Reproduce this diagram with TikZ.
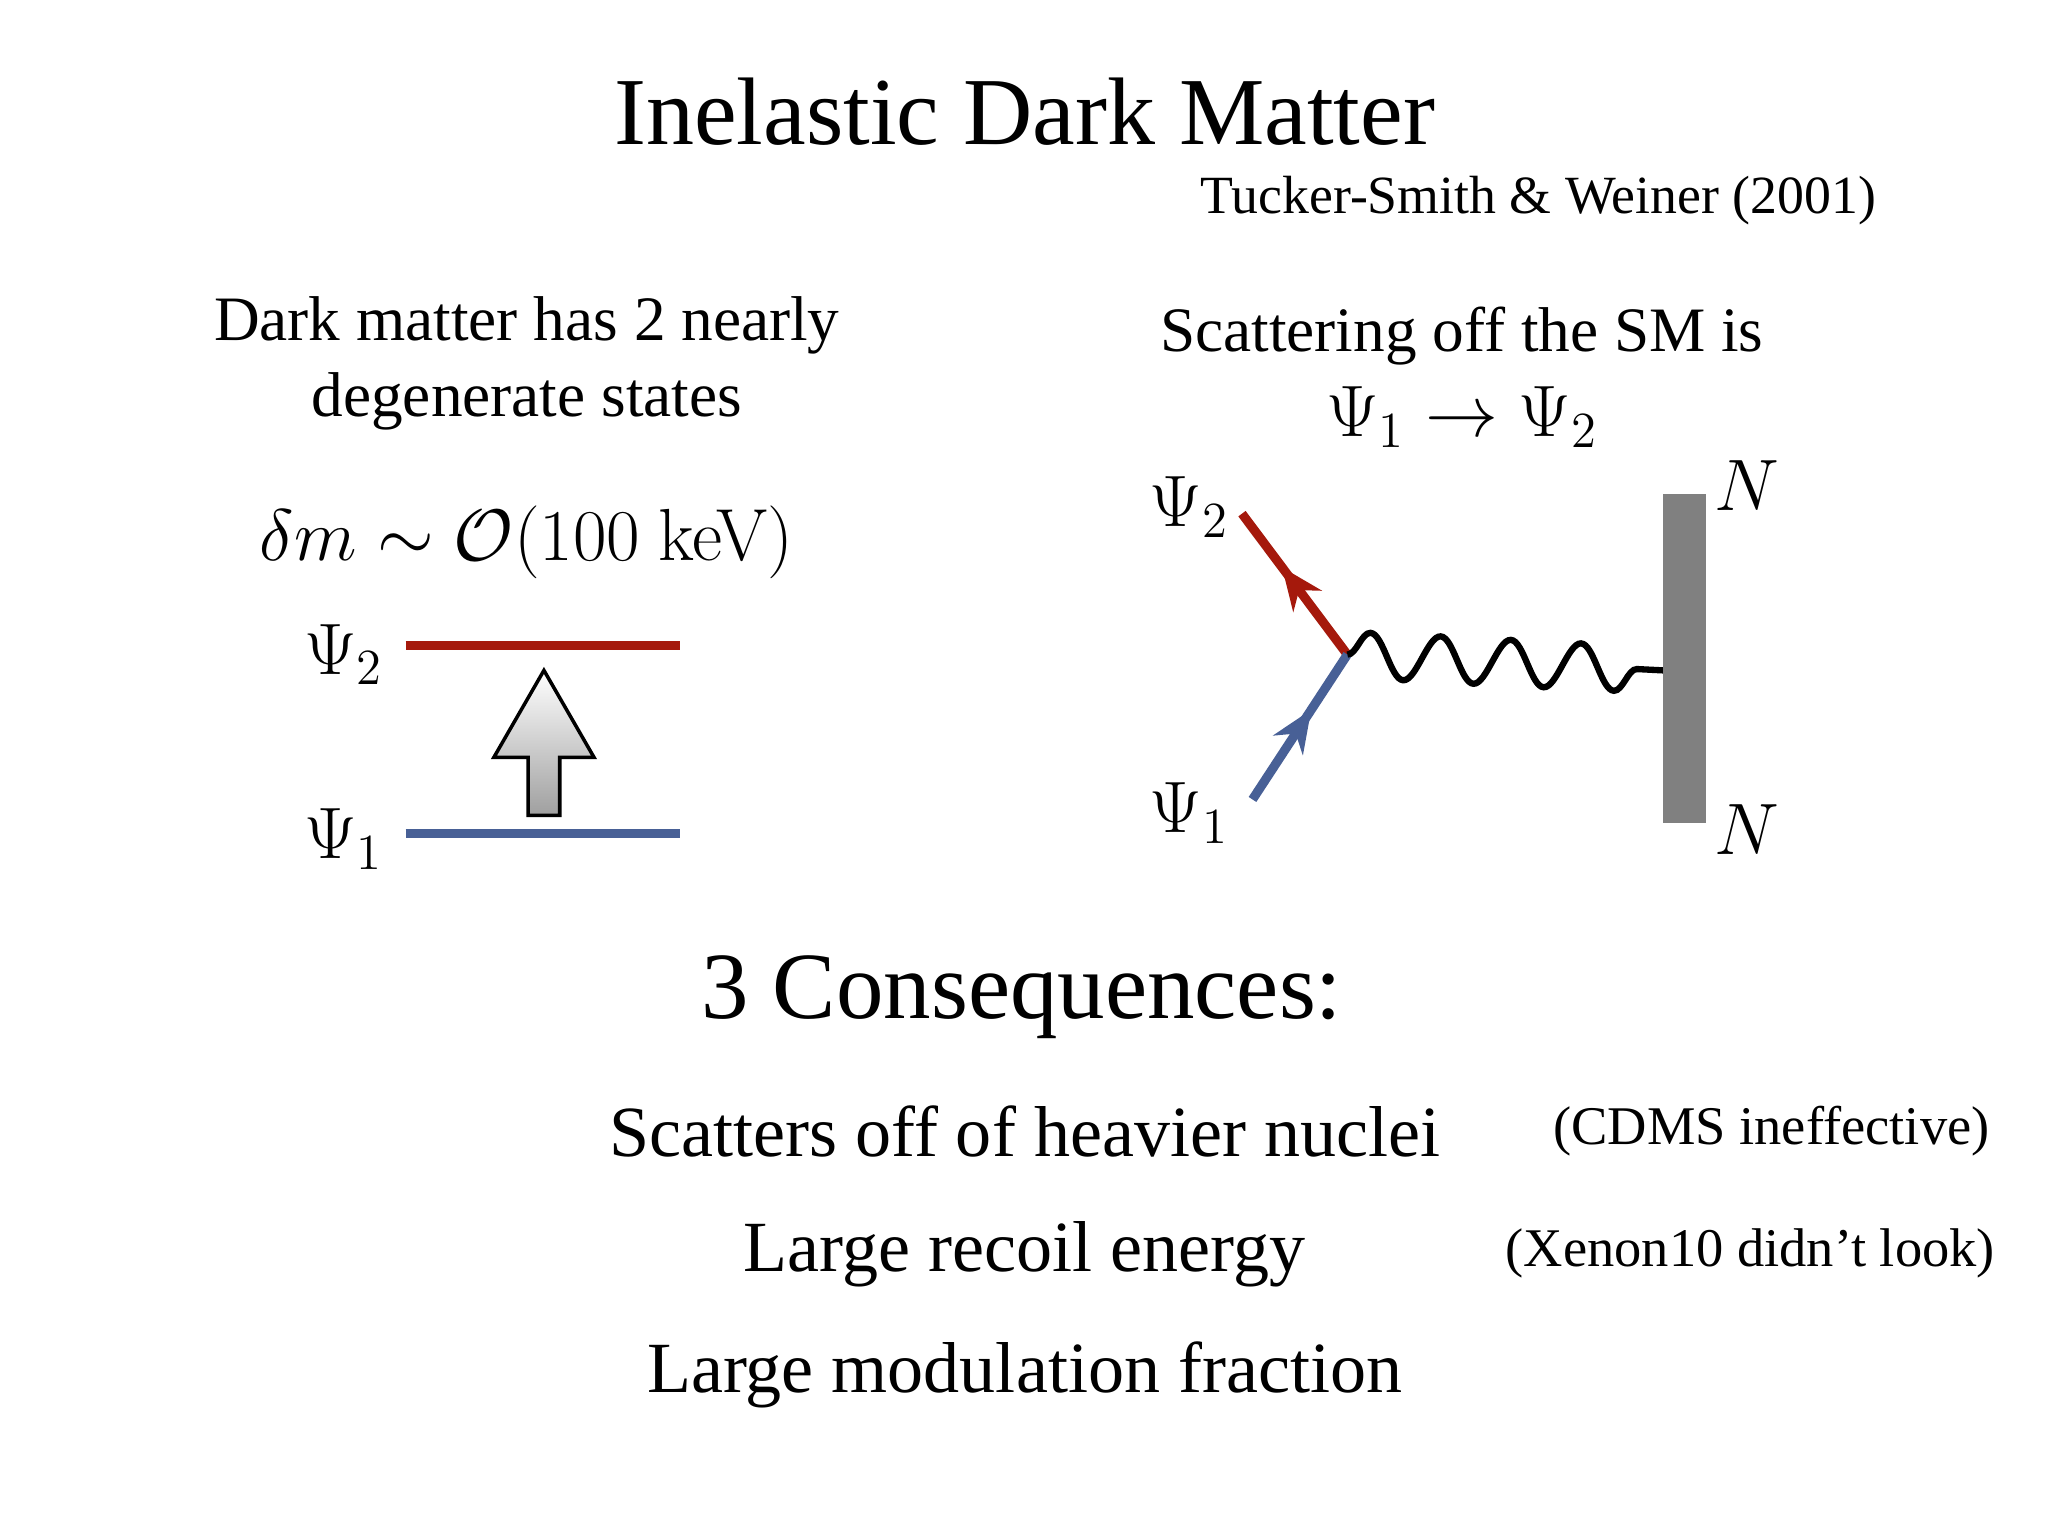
\documentclass[tikz,border=0pt]{standalone}
\usepackage{fontspec}
\setmainfont{Liberation Serif}
\newfontfamily\lmr{Latin Modern Roman}
\usetikzlibrary{decorations.pathmorphing,decorations.markings,arrows.meta}
\definecolor{dred}{RGB}{165,25,12}
\definecolor{dblue}{RGB}{72,96,150}
\definecolor{bargray}{RGB}{128,128,128}
\tikzset{
  txt/.style={inner sep=0pt,anchor=center},
  level/.style={line width=7pt*0.37},
  fline/.style={line width=2.6pt,postaction={decorate},decoration={markings,mark=at position 0.62 with {\arrow{Stealth[length=12pt,width=10pt]}}}},
}
\begin{document}
\begin{tikzpicture}[x=0.01317cm,y=-0.01317cm]
\useasboundingbox[fill=white] (0,0) rectangle (1555,1166);
\begin{scope}[shift={(-7,-3)}]
\node[txt,font=\fontsize{27.3}{32}\selectfont] (title) at (785,88) {Inelastic Dark Matter};
\node[txt,font=\fontsize{15.3}{18}\selectfont] (ref) at (1175,155) {Tucker-Smith \& Weiner (2001)};
\node[txt,font=\fontsize{18}{21.5}\selectfont,align=center] (ltxt) at (407,279) {Dark matter has 2 nearly\\degenerate states};
\node[txt,font=\fontsize{21}{25}\selectfont] (dm) at (407,415) {$\delta m \sim \mathcal{O}(100\ \mbox{\lmr keV})$};
\coordinate (r1) at (315,493); \coordinate (r2) at (523,493);
\coordinate (b1) at (315,636); \coordinate (b2) at (523,636);
\draw[dred,level] (r1) -- (r2);
\draw[dblue,level] (b1) -- (b2);
\node[txt,font=\fontsize{20}{24}\selectfont] (lp2) at (268,500) {$\Psi_2$};
\node[txt,font=\fontsize{20}{24}\selectfont] (lp1) at (268,640) {$\Psi_1$};
\shade[top color=white,bottom color=gray!75,draw=black,line width=1pt]
  (408,622) -- (408,578) -- (382,578) -- (420,512) -- (458,578) -- (432,578) -- (432,622) -- cycle;
\node[txt,font=\fontsize{18}{21.5}\selectfont] (rtxt) at (1117,258) {Scattering off the SM is};
\node[txt,font=\fontsize{20}{24}\selectfont] (proc) at (1117,320) {$\Psi_1 \rightarrow \Psi_2$};
\coordinate (v) at (1030,500);
\coordinate (e2) at (950,393);
\coordinate (e1) at (958,610);
\coordinate (w) at (1270,512);
\draw[dred,fline] (v) -- (e2);
\draw[dblue,fline] (e1) -- (v);
\draw[line width=1.8pt,decorate,decoration={snake,amplitude=6.5pt,segment length=20pt,post length=1pt}] (v) -- (w);
\fill[bargray] (1270,378) rectangle (1302,628);
\node[txt,font=\fontsize{20}{24}\selectfont] (n1) at (1333,372) {$N$};
\node[txt,font=\fontsize{20}{24}\selectfont] (n2) at (1333,633) {$N$};
\node[txt,font=\fontsize{20}{24}\selectfont] (fp2) at (910,388) {$\Psi_2$};
\node[txt,font=\fontsize{20}{24}\selectfont] (fp1) at (910,620) {$\Psi_1$};
\node[txt,font=\fontsize{27}{32}\selectfont] (cons) at (783,760) {3 Consequences:};
\node[txt,font=\fontsize{20.5}{24}\selectfont] (i1) at (785,862) {Scatters off of heavier nuclei};
\node[txt,font=\fontsize{20.5}{24}\selectfont] (i2) at (785,955) {Large recoil energy};
\node[txt,font=\fontsize{20.5}{24}\selectfont] (i3) at (785,1047) {Large modulation fraction};
\node[txt,font=\fontsize{15.5}{19}\selectfont] (p1) at (1352,862) {(CDMS ineffective)};
\node[txt,font=\fontsize{15.5}{19}\selectfont] (p2) at (1336,955) {(Xenon10 didn’t look)};
\end{scope}
\end{tikzpicture}
\end{document}
